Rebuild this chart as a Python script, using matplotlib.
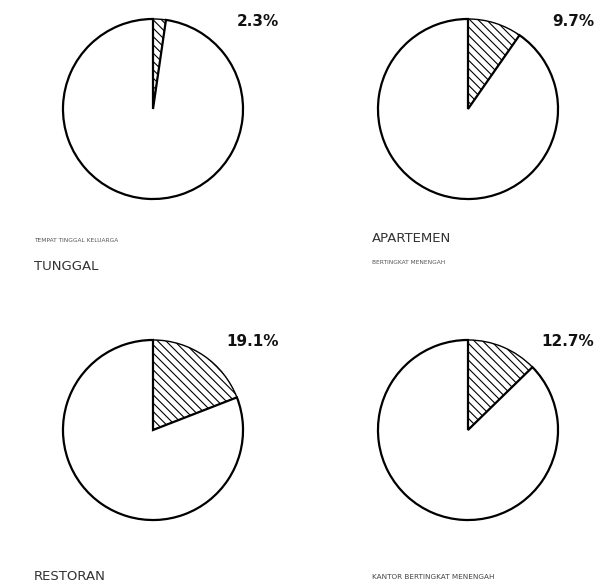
import matplotlib.pyplot as plt

# share of each building type (percent)
shares = [2.3, 9.7, 19.1, 12.7]
pct_labels = ['2.3%', '9.7%', '19.1%', '12.7%']
small_labels = ['TEMPAT TINGGAL KELUARGA', 'BERTINGKAT MENENGAH', '', 'KANTOR BERTINGKAT MENENGAH']
big_labels = ['TUNGGAL', 'APARTEMEN', 'RESTORAN', '']

plt.rcParams['hatch.linewidth'] = 0.8

W, H = 609, 586
fig = plt.figure(figsize=(W / 100, H / 100), dpi=100)

# pie centres in pixels (x from left, y from top)
centres = [(153, 109), (468, 109), (153, 430), (468, 430)]
R = 90

for i, (cx, cy) in enumerate(centres):
    ax = fig.add_axes([(cx - R - 2) / W, 1 - (cy + R + 2) / H, (2 * R + 4) / W, (2 * R + 4) / H])
    v = shares[i]
    wedges, _ = ax.pie([v, 100 - v], startangle=90, counterclock=False,
                       colors=['white', 'white'],
                       wedgeprops=dict(edgecolor='black', linewidth=1.6))
    wedges[0].set_hatch('\\\\\\\\')
    wedges[0].set_linewidth(1.0)
    ax.set_xlim(-1.022, 1.022)
    ax.set_ylim(-1.022, 1.022)
    ax.set_aspect('equal')
    ax.axis('off')
    fig.text((cx + 126) / W, 1 - (cy - 88) / H, pct_labels[i], fontsize=11,
             fontweight='bold', family=['DejaVu Sans Condensed', 'DejaVu Sans'],
             ha='right', va='center', color='#111111')

# captions under each pie
fig.text(34 / W, 1 - 240 / H, small_labels[0], fontsize=4.2, color='#555555', va='center')
fig.text(34 / W, 1 - 266 / H, big_labels[0], fontsize=9.5, color='#333333', va='center')
fig.text(372 / W, 1 - 238 / H, big_labels[1], fontsize=9.5, color='#333333', va='center')
fig.text(372 / W, 1 - 263 / H, small_labels[1], fontsize=4.2, color='#555555', va='center')
fig.text(34 / W, 1 - 577 / H, big_labels[2], fontsize=9.5, color='#333333', va='center')
fig.text(372 / W, 1 - 577 / H, small_labels[3], fontsize=5.2, color='#444444', va='center')

fig.savefig('out.png', dpi=100, facecolor='white')
